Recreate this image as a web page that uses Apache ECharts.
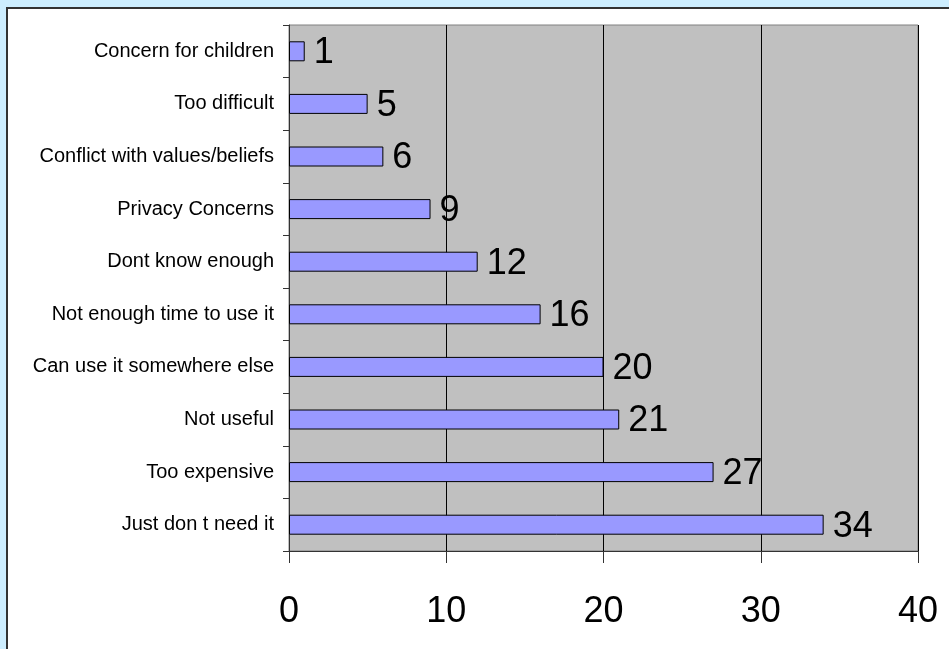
<!DOCTYPE html>
<html>
<head>
<meta charset="utf-8">
<script src="https://cdn.jsdelivr.net/npm/echarts@6/dist/echarts.min.js"></script>
<style>html,body{margin:0;padding:0;background:#cdeeff;}#c{width:949px;height:649px;}</style>
</head>
<body>
<div id="c"></div>
<script>
const categories = ["Concern for children","Too difficult","Conflict with values/beliefs","Privacy Concerns","Dont know enough","Not enough time to use it","Can use it somewhere else","Not useful","Too expensive","Just don t need it"];
const values = [1,5,6,9,12,16,20,21,27,34];
const xTicks = [0,10,20,30,40];

const chart = echarts.init(document.getElementById('c'), null, {renderer:'canvas'});
chart.setOption({
  backgroundColor:'#cdeeff',
  animation:false,
  graphic:[{type:'rect',z:-10,silent:true,shape:{x:7,y:8,width:960,height:660},style:{fill:'#ffffff',stroke:'#333333',lineWidth:2}}],
  grid:{left:289,right:31,top:25,bottom:98,show:true,backgroundColor:'#c0c0c0',borderColor:'#808080',borderWidth:1},
  xAxis:{type:'value',min:xTicks[0],max:xTicks[xTicks.length-1],interval:10,
    axisLine:{show:true,lineStyle:{color:'#333333',width:1}},
    axisTick:{show:true,length:12,lineStyle:{color:'#333333'}},
    axisLabel:{fontSize:36,color:'#000',fontFamily:'Liberation Sans, Arial',margin:43},
    splitLine:{show:true,lineStyle:{color:'#000000',width:1}}},
  yAxis:{type:'category',data:categories,inverse:true,
    axisLine:{show:true,lineStyle:{color:'#333333'}},
    axisTick:{show:true,length:6,lineStyle:{color:'#333333'}},
    axisLabel:{fontSize:20,color:'#000',fontFamily:'Liberation Sans, Arial',margin:15}},
  series:[{type:'bar',data:values,barWidth:20,
    itemStyle:{color:'#9999ff',borderColor:'#000000',borderWidth:1},
    label:{show:true,position:'right',distance:9,fontSize:36,color:'#000',fontFamily:'Liberation Sans, Arial',offset:[0,2]}}]
});
</script>
</body>
</html>
